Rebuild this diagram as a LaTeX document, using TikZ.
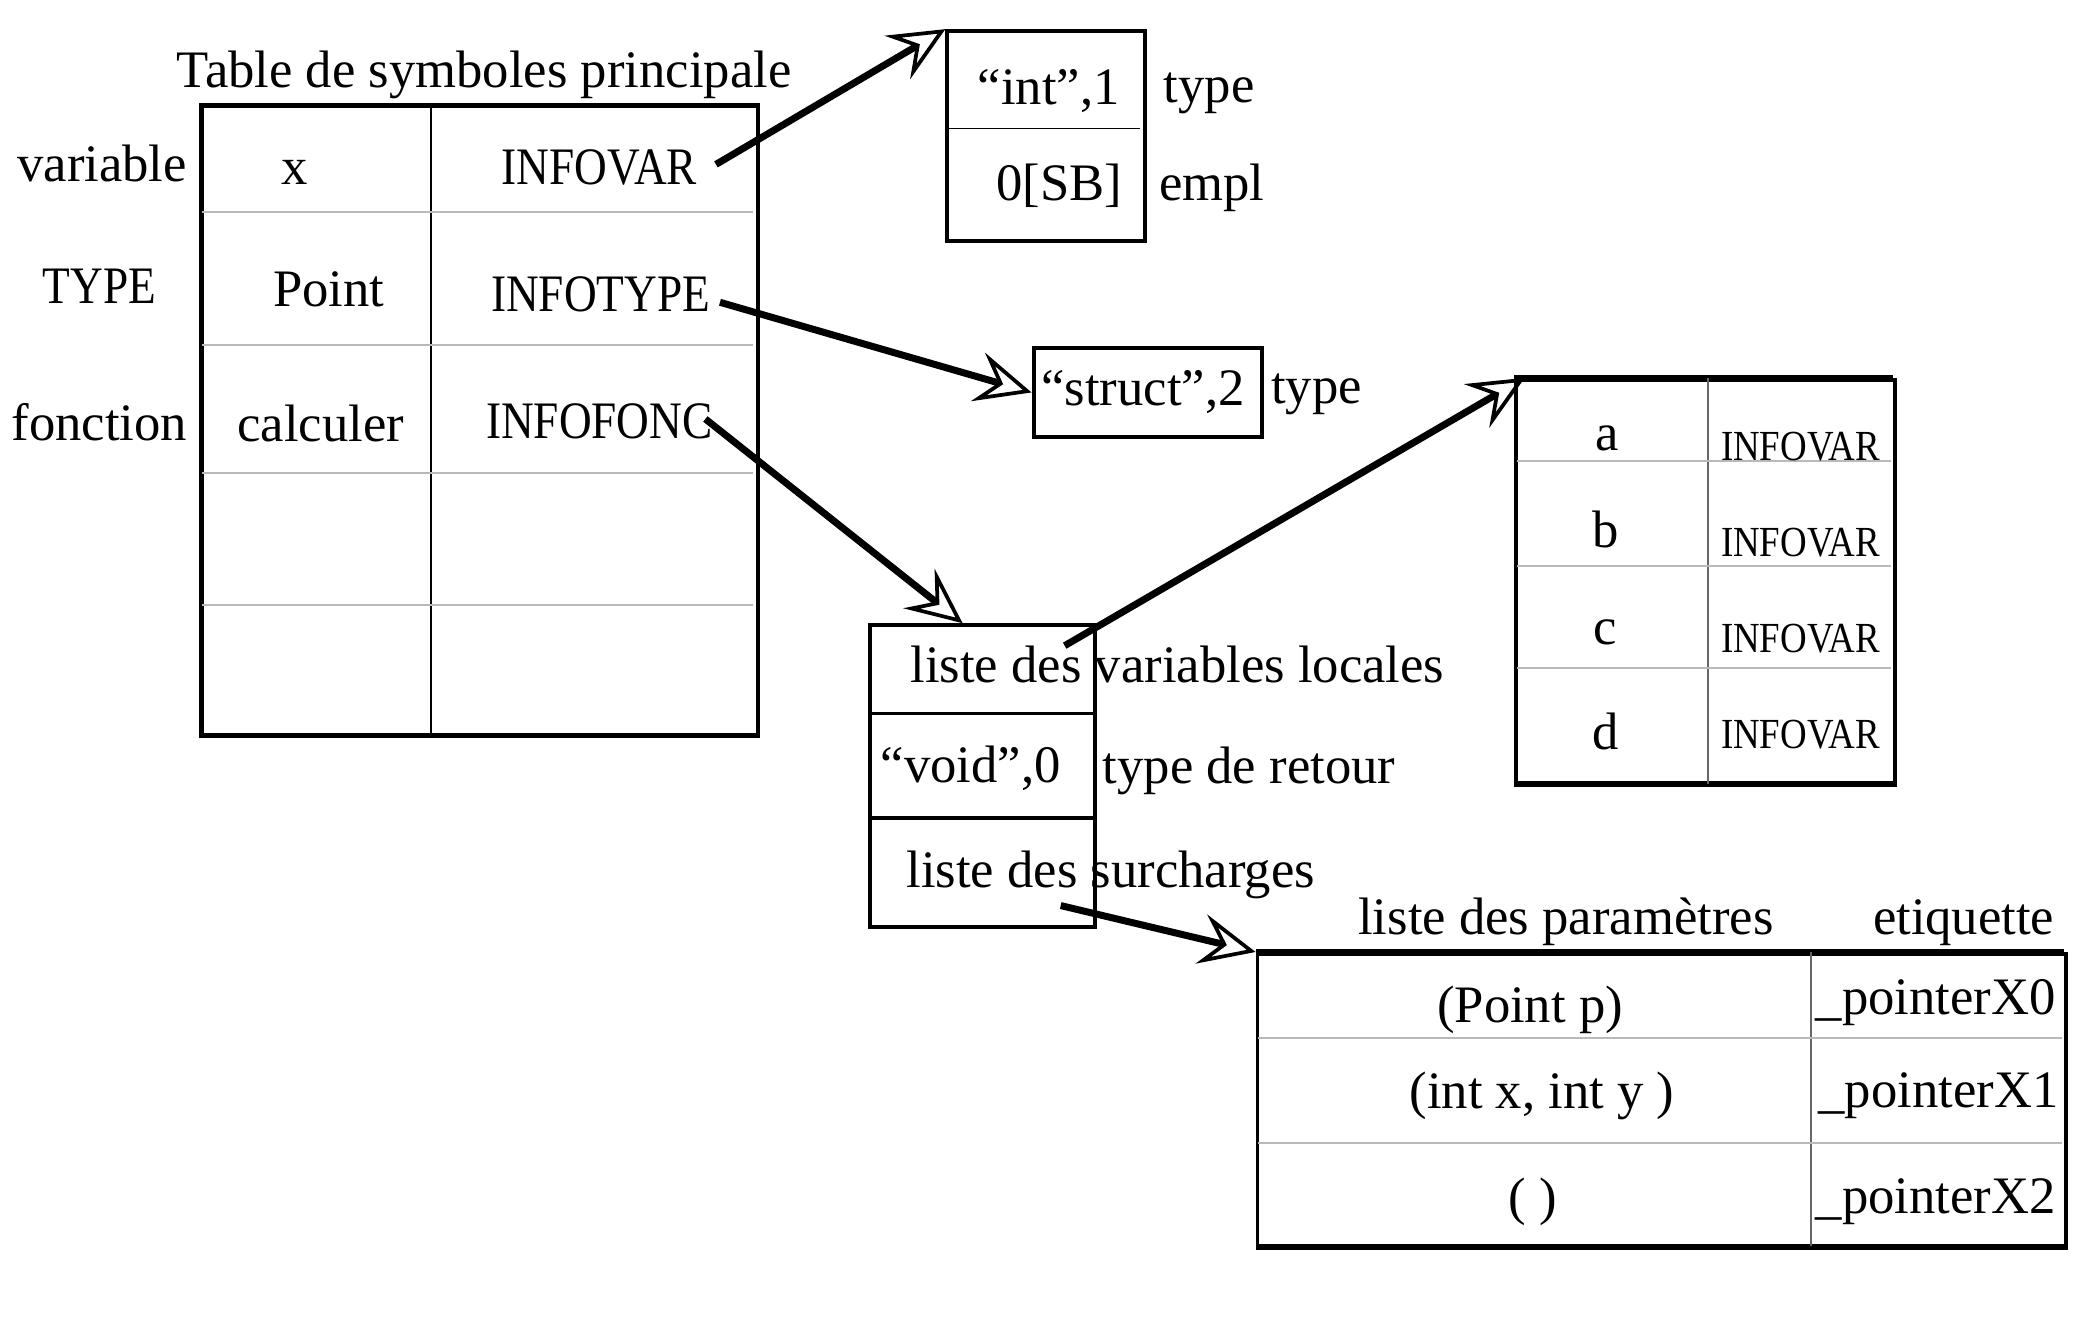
\documentclass[tikz,border=0pt]{standalone}
\usepackage{fontspec}
\usepackage{graphicx}
\setmainfont{Liberation Serif}
\usetikzlibrary{arrows.meta}
\newcommand\nrw[1]{\scalebox{0.86}[1]{#1}}
\begin{document}
\begin{tikzpicture}[x=0.1mm,y=-0.1mm,
  txt/.style={inner sep=0pt,text height=2.6mm,text depth=0pt,font=\fontsize{11.3}{13}\selectfont},
  small/.style={inner sep=0pt,text height=2.1mm,text depth=0pt,font=\fontsize{9.2}{11}\selectfont},
  box/.style={draw,line width=0.85pt,inner sep=0pt},
  thinl/.style={line width=0.35pt},
  greyl/.style={line width=0.45pt,draw=gray!55},
  ptr/.style={line width=1.5pt,-{Stealth[open,length=4.2mm,width=3.8mm,inset=1.6mm,line width=0.8pt]}}]
\useasboundingbox (0,0) rectangle (1568,999);
% ---------- main table
\node[txt] (title) at (365,53) {Table de symboles principale};
\node[box,line width=1pt,minimum width=42mm,minimum height=47.5mm,anchor=north west] (main) at (150,78) {};
\draw[thinl] (325,78) -- (325,553);
\foreach \yy in {160,260,357,456} \draw[greyl] (152,\yy) -- (568,\yy);
\node[txt] (lvar) at (77,124) {variable};
\node[txt] (ltype) at (75,216) {\nrw{TYPE}};
\node[txt] (lfct) at (75,319) {fonction};
\node[txt] (nx) at (222,126) {x};
\node[txt] (npoint) at (248,218) {Point};
\node[txt] (ncalc) at (242,320) {calculer};
\node[txt] (iv) at (452,126) {\nrw{INFOVAR}};
\node[txt] (it) at (453,222) {\nrw{INFOTYPE}};
\node[txt] (ifc) at (452,318) {\nrw{INFOFONC}};
% ---------- int box
\node[box,minimum width=14.9mm,minimum height=15.8mm,anchor=north west] (intbox) at (713,22) {};
\draw[thinl] (715,97) -- (860,97);
\node[txt] (int) at (791,66) {“int”,1};
\node[txt] (sb) at (799,138) {0[SB]};
\node[txt] (ltype1) at (912,64) {type};
\node[txt] (lempl) at (914,138) {empl};
% ---------- struct box
\node[box,minimum width=17.2mm,minimum height=6.7mm,anchor=north west] (structbox) at (778,261) {};
\node[txt] (struct) at (862,293) {“struct”,2};
\node[txt] (ltype2) at (993,291) {type};
% ---------- local variables table
\node[box,line width=0.8pt,minimum width=28.6mm,minimum height=30.6mm,anchor=north west] (locals) at (1142,285) {};
\draw[line width=1.1pt] (1142,285) -- (1428,285) (1142,591) -- (1428,591);
\draw[thinl,draw=gray!80!black] (1288,285) -- (1288,591);
\foreach \yy in {348,427,504} \draw[greyl] (1144,\yy) -- (1426,\yy);
\node[txt] (va) at (1212,327) {a};
\node[txt] (vb) at (1211,400) {b};
\node[txt] (vc) at (1211,473) {c};
\node[txt] (vd) at (1211,552) {d};
\node[small] (iva) at (1358,337) {\nrw{INFOVAR}};
\node[small] (ivb) at (1358,409) {\nrw{INFOVAR}};
\node[small] (ivc) at (1358,482) {\nrw{INFOVAR}};
\node[small] (ivd) at (1358,554) {\nrw{INFOVAR}};
% ---------- function box
\node[box,minimum width=16.9mm,minimum height=22.8mm,anchor=north west] (fct) at (655,470) {};
\draw[line width=0.7pt] (655,538) -- (824,538) (655,617) -- (824,617);
\node[txt,anchor=west] (lvl) at (686,502) {liste des variables locales};
\node[txt] (void) at (732,577) {“void”,0};
\node[txt,anchor=west] (lret) at (831,578) {type de retour};
\node[txt,anchor=west] (lsur) at (683,656) {liste des surcharges};
% ---------- parameters table
\node[txt] (hparam) at (1181,692) {liste des paramètres};
\node[txt] (hetiq) at (1481,692) {etiquette};
\node[box,line width=0.8pt,minimum width=61mm,minimum height=22.2mm,anchor=north west] (params) at (947,718) {};
\draw[line width=1.1pt] (947,718) -- (1557,718) (947,940) -- (1557,940);
\draw[thinl,draw=gray!80!black] (1366,718) -- (1366,940);
\foreach \yy in {783,862} \draw[greyl] (949,\yy) -- (1555,\yy);
\node[txt] (p0) at (1154,758) {(Point p)};
\node[txt] (p1) at (1163,823) {(int x, int y )};
\node[txt] (p2) at (1156,903) {( )};
\node[txt] (e0) at (1460,752) {\_pointerX0};
\node[txt] (e1) at (1462,822) {\_pointerX1};
\node[txt] (e2) at (1460,902) {\_pointerX2};
% ---------- pointers
\coordinate (s1) at (540,124);
\coordinate (s2) at (543,228);
\coordinate (s3) at (803,487);
\coordinate (s4) at (532,316);
\coordinate (s5) at (800,683);
\draw[ptr] (s1) -- (intbox.north west);
\draw[ptr] (s2) -- (structbox.west);
\draw[ptr] (s3) -- ([xshift=0.8mm]locals.north west);
\draw[ptr] (s4) -- ([xshift=-1.5mm]fct.north);
\draw[ptr] (s5) -- (params.north west);
\end{tikzpicture}
\end{document}
